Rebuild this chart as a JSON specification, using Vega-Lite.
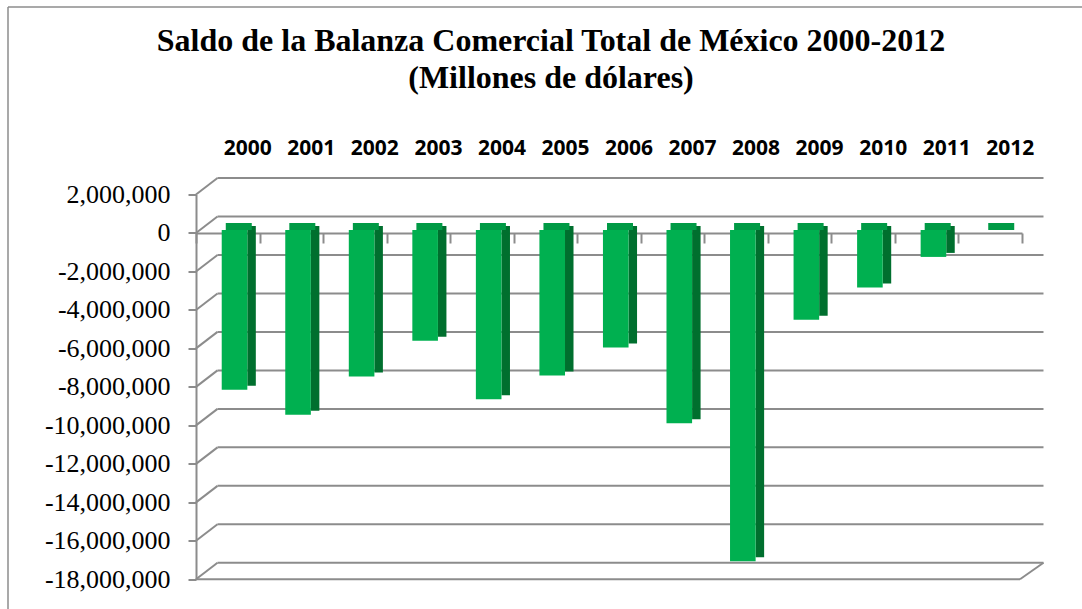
{
  "$schema": "https://vega.github.io/schema/vega-lite/v6.json",
  "width": 826,
  "height": 384.8,
  "autosize": {"type": "none"},
  "padding": {"left": 196, "top": 194.5, "right": 60, "bottom": 30},
  "background": "white",
  "config": {
    "view": {"stroke": null},
    "locale": {"number": {"decimal": ".", "thousands": ",", "grouping": [3], "currency": ["$", ""], "minus": "-"}},
    "axisY": {
      "labelFont": "Liberation Serif", "labelFontSize": 26, "labelColor": "black", "labelPadding": 18,
      "domain": true, "domainColor": "#8c8c8c", "domainWidth": 2, "ticks": true, "tickSize": 8, "tickWidth": 2, "tickColor": "#8c8c8c",
      "grid": false, "labelBaseline": "middle", "format": ",d", "labelOverlap": false, "labelBound": false
    }
  },
  "title": {
    "text": ["Saldo de la Balanza Comercial Total de México 2000-2012", "(Millones de dólares)"],
    "font": "Liberation Serif",
    "fontSize": 32,
    "fontWeight": "bold",
    "color": "black",
    "anchor": "middle",
    "frame": "group",
    "baseline": "alphabetic",
    "lineHeight": 37,
    "offset": -114,
    "dx": -58
  },
  "datasets": {
    "bars": [
      {"year": "2000", "saldo": -8310000},
      {"year": "2001", "saldo": -9600000},
      {"year": "2002", "saldo": -7610000},
      {"year": "2003", "saldo": -5760000},
      {"year": "2004", "saldo": -8800000},
      {"year": "2005", "saldo": -7560000},
      {"year": "2006", "saldo": -6110000},
      {"year": "2007", "saldo": -10050000},
      {"year": "2008", "saldo": -17220000},
      {"year": "2009", "saldo": -4660000},
      {"year": "2010", "saldo": -2990000},
      {"year": "2011", "saldo": -1400000},
      {"year": "2012", "saldo": 0}
    ],
    "grid": [
      {"v": 2000000}, {"v": 0}, {"v": -2000000}, {"v": -4000000}, {"v": -6000000},
      {"v": -8000000}, {"v": -10000000}, {"v": -12000000}, {"v": -14000000},
      {"v": -16000000}, {"v": -18000000}
    ],
    "frame": [{"top": 2000000, "bottom": -18000000}]
  },
  "resolve": {"axis": {"x": "independent"}},
  "layer": [
    {
      "data": {"name": "frame"},
      "mark": {"type": "rule", "color": "#8c8c8c", "strokeWidth": 1.5, "xOffset": -188, "yOffset": -187.5, "y2Offset": 40},
      "encoding": {
        "x": {"datum": "2000", "type": "nominal", "bandPosition": 0, "axis": null,
              "scale": {"domain": ["2000","2001","2002","2003","2004","2005","2006","2007","2008","2009","2010","2011","2012"], "paddingInner": 0, "paddingOuter": 0}},
        "y": {"field": "top", "type": "quantitative", "title": null,
              "scale": {"domain": [-18000000, 2000000], "nice": false, "zero": false},
              "axis": {"orient": "left", "title": null, "labelOverlap": false, "values": [2000000, 0, -2000000, -4000000, -6000000, -8000000, -10000000, -12000000, -14000000, -16000000, -18000000]}},
        "y2": {"field": "bottom"}
      }
    },
    {
      "data": {"name": "frame"},
      "mark": {"type": "rule", "color": "#8c8c8c", "strokeWidth": 1.5, "xOffset": -188, "x2Offset": 80, "yOffset": -187.5},
      "encoding": {
        "x": {"datum": "2000", "type": "nominal", "bandPosition": 0, "axis": null},
        "x2": {"datum": "2012", "bandPosition": 1},
        "y": {"field": "top", "type": "quantitative", "title": null,
              "axis": {"orient": "left", "title": null, "labelOverlap": false, "values": [2000000, 0, -2000000, -4000000, -6000000, -8000000, -10000000, -12000000, -14000000, -16000000, -18000000]}}
      }
    },
    {
      "data": {"name": "grid"},
      "mark": {"type": "rule", "color": "#8c8c8c", "strokeWidth": 2, "xOffset": 21.5, "x2Offset": 21.5, "yOffset": -16.5},
      "encoding": {
        "x": {"datum": "2000", "type": "nominal", "bandPosition": 0, "axis": null},
        "x2": {"datum": "2012", "bandPosition": 1},
        "y": {"field": "v", "type": "quantitative", "title": null,
              "axis": {"orient": "left", "title": null, "labelOverlap": false, "values": [2000000, 0, -2000000, -4000000, -6000000, -8000000, -10000000, -12000000, -14000000, -16000000, -18000000]}}
      }
    },
    {
      "data": {"name": "grid"},
      "mark": {"type": "rule", "color": "#8c8c8c", "strokeWidth": 2, "x2Offset": 21.5, "y2Offset": -16.5},
      "encoding": {
        "x": {"datum": "2000", "type": "nominal", "bandPosition": 0, "axis": null},
        "x2": {"datum": "2000", "bandPosition": 0},
        "y": {"field": "v", "type": "quantitative", "title": null,
              "axis": {"orient": "left", "title": null, "labelOverlap": false, "values": [2000000, 0, -2000000, -4000000, -6000000, -8000000, -10000000, -12000000, -14000000, -16000000, -18000000]}},
        "y2": {"field": "v"}
      }
    },
    {
      "data": {"name": "frame"},
      "mark": {"type": "rule", "color": "#8c8c8c", "strokeWidth": 2, "x2Offset": -2},
      "encoding": {
        "x": {"datum": "2000", "type": "nominal", "bandPosition": 0, "axis": null},
        "x2": {"datum": "2012", "bandPosition": 1},
        "y": {"field": "bottom", "type": "quantitative", "title": null,
              "axis": {"orient": "left", "title": null, "labelOverlap": false, "values": [2000000, 0, -2000000, -4000000, -6000000, -8000000, -10000000, -12000000, -14000000, -16000000, -18000000]}}
      }
    },
    {
      "data": {"name": "frame"},
      "mark": {"type": "rule", "color": "#8c8c8c", "strokeWidth": 2, "xOffset": -2, "x2Offset": 21.5, "y2Offset": -16.5},
      "encoding": {
        "x": {"datum": "2012", "type": "nominal", "bandPosition": 1, "axis": null},
        "x2": {"datum": "2012", "bandPosition": 1},
        "y": {"field": "bottom", "type": "quantitative", "title": null,
              "axis": {"orient": "left", "title": null, "labelOverlap": false, "values": [2000000, 0, -2000000, -4000000, -6000000, -8000000, -10000000, -12000000, -14000000, -16000000, -18000000]}},
        "y2": {"field": "bottom"}
      }
    },
    {
      "data": {"name": "bars"},
      "mark": {"type": "bar", "width": 8.5, "xOffset": 23.8, "yOffset": -7, "y2Offset": -10, "color": "#006f2e"},
      "encoding": {
        "x": {"field": "year", "type": "nominal",
              "axis": {"orient": "top", "domain": false, "ticks": false, "tickSize": 0,
                       "labelPadding": 39.5, "labelBaseline": "alphabetic", "labelOffset": 20, "labelAngle": 0,
                       "labelFont": "Open Sans", "labelFontWeight": "bold", "labelFontSize": 21, "labelColor": "black", "title": null}},
        "y": {"field": "saldo", "type": "quantitative", "title": null,
              "axis": {"orient": "left", "title": null, "labelOverlap": false, "values": [2000000, 0, -2000000, -4000000, -6000000, -8000000, -10000000, -12000000, -14000000, -16000000, -18000000]}}
      }
    },
    {
      "data": {"name": "bars"},
      "mark": {"type": "bar", "width": 26, "xOffset": 11, "yOffset": -3, "y2Offset": -10, "color": "#009a45"},
      "encoding": {
        "x": {"field": "year", "type": "nominal", "axis": null},
        "y": {"datum": 0, "type": "quantitative", "title": null,
              "axis": {"orient": "left", "title": null, "labelOverlap": false, "values": [2000000, 0, -2000000, -4000000, -6000000, -8000000, -10000000, -12000000, -14000000, -16000000, -18000000]}},
        "y2": {"datum": 0}
      }
    },
    {
      "data": {"name": "bars"},
      "mark": {"type": "bar", "width": 25.6, "xOffset": 6.75, "yOffset": -3, "y2Offset": -3, "color": "#00b050"},
      "encoding": {
        "x": {"field": "year", "type": "nominal",
              "axis": {"orient": "bottom", "offset": -346.3, "labels": false, "domain": true, "domainColor": "#8c8c8c", "domainWidth": 2,
                       "ticks": true, "tickBand": "extent", "tickSize": 10, "tickWidth": 2, "tickColor": "#8c8c8c", "title": null, "grid": false}},
        "y": {"field": "saldo", "type": "quantitative", "title": null,
              "axis": {"orient": "left", "title": null, "labelOverlap": false, "values": [2000000, 0, -2000000, -4000000, -6000000, -8000000, -10000000, -12000000, -14000000, -16000000, -18000000]}}
      }
    }
  ]
}
